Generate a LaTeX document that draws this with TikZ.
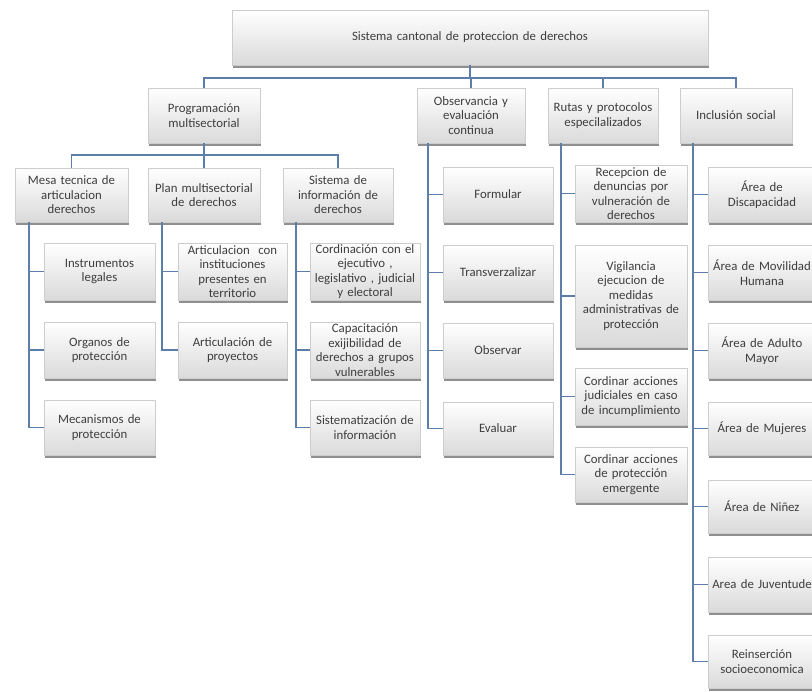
\documentclass[tikz,border=0pt]{standalone}
\usepackage{fontspec}
\setmainfont{Carlito}
\usetikzlibrary{shadows}
\definecolor{connc}{RGB}{92,126,168}
\definecolor{boxline}{RGB}{205,205,205}
\definecolor{boxbot}{RGB}{218,218,218}
\definecolor{txt}{RGB}{62,62,62}
\tikzset{
  orgnode/.style={draw=boxline, line width=0.5pt, top color=white, bottom color=boxbot,
    drop shadow={shadow xshift=0.8pt, shadow yshift=-2.6pt, fill=black!80, opacity=0.55},
    align=center, inner xsep=1pt, inner ysep=0pt, outer sep=0pt, text=txt,
    font=\fontsize{12.8}{14.5}\selectfont},
  conn/.style={draw=connc, line width=1.1pt}
}
\newcommand\orgbox[6]{%
  \pgfmathsetmacro\obw{#4-#2}%
  \pgfmathsetmacro\obh{#5-#3}%
  \pgfmathsetmacro\otw{#4-#2-2}%
  \node[orgnode, minimum width=\obw pt, minimum height=\obh pt, text width=\otw pt]
    (#1) at ({(#2+#4)/2},{(#3+#5)/2}) {#6};}
\begin{document}
\begin{tikzpicture}[x=1pt,y=-1pt]
\useasboundingbox (0,0) rectangle (812,692);
\fill[white] (0,0) rectangle (812,692);
% root and level 1
\orgbox{root}{232}{10}{708}{65}{Sistema cantonal de proteccion de derechos}
\orgbox{prog}{148}{88}{260}{143}{Programación\\multisectorial}
\orgbox{obs}{417}{88}{525}{143}{Observancia y\\evaluación\\continua}
\orgbox{rutas}{548}{88}{658}{143}{Rutas y protocolos\\especilalizados}
\orgbox{incl}{680}{88}{792}{143}{Inclusión social}
% level 2 under programacion
\orgbox{mesa}{15}{168}{128}{222}{Mesa tecnica de\\articulacion\\derechos}
\orgbox{plan}{148}{168}{260}{222}{Plan multisectorial\\de derechos}
\orgbox{sist}{283}{168}{393}{222}{Sistema de\\información de\\derechos}
% mesa children
\orgbox{instr}{44}{243}{155}{300}{Instrumentos\\legales}
\orgbox{organos}{44}{322}{155}{378}{Organos de\\protección}
\orgbox{mecan}{44}{400}{155}{455}{Mecanismos de\\protección}
% plan children
\orgbox{artinst}{178}{243}{287}{300}{Articulacion~ con\\instituciones\\presentes en\\territorio}
\orgbox{artproy}{178}{322}{287}{378}{Articulación de\\proyectos}
% sist children
\orgbox{cord}{310}{243}{420}{300}{Cordinación con el\\ejecutivo ,\\legislativo , judicial\\y electoral}
\orgbox{capac}{310}{322}{420}{378}{Capacitación\\exijibilidad de\\derechos a grupos\\vulnerables}
\orgbox{sistem}{310}{400}{420}{455}{Sistematización de\\información}
% obs children
\orgbox{formular}{443}{167}{553}{222}{Formular}
\orgbox{transv}{443}{245}{553}{300}{Transverzalizar}
\orgbox{observar}{443}{323}{553}{378}{Observar}
\orgbox{evaluar}{443}{402}{553}{455}{Evaluar}
% rutas children
\orgbox{recep}{575}{165}{687}{222}{Recepcion de\\denuncias por\\vulneración de\\derechos}
\orgbox{vigil}{575}{245}{687}{347}{Vigilancia\\ejecucion de\\medidas\\administrativas de\\protección}
\orgbox{cordjud}{575}{368}{687}{425}{Cordinar acciones\\judiciales en caso\\de incumplimiento}
\orgbox{cordprot}{575}{447}{687}{502}{Cordinar acciones\\de protección\\emergente}
% inclusion children
\orgbox{discap}{708}{167}{816}{222}{Área de\\Discapacidad}
\orgbox{movil}{708}{245}{816}{300}{Área de Movilidad\\Humana}
\orgbox{adulto}{708}{323}{816}{378}{Área de Adulto\\Mayor}
\orgbox{mujeres}{708}{402}{816}{455}{Área de Mujeres}
\orgbox{ninez}{708}{480}{816}{533}{Área de Niñez}
\orgbox{juvent}{708}{557}{816}{612}{Area de Juventude}
\orgbox{reins}{708}{635}{816}{688}{Reinserción\\socioeconomica}
% connectors level 1
\foreach \c in {prog,obs,rutas,incl}
  \draw[conn] (root.south) -- ++(0,13) -| (\c.north);
% connectors level 2
\foreach \c in {mesa,plan,sist}
  \draw[conn] (prog.south) -- ++(0,12) -| (\c.north);
% spines
\foreach \c in {instr,organos,mecan}
  \draw[conn] ([xshift=14pt]mesa.south west) |- (\c.west);
\foreach \c in {artinst,artproy}
  \draw[conn] ([xshift=14pt]plan.south west) |- (\c.west);
\foreach \c in {cord,capac,sistem}
  \draw[conn] ([xshift=13pt]sist.south west) |- (\c.west);
\foreach \c in {formular,transv,observar,evaluar}
  \draw[conn] ([xshift=11pt]obs.south west) |- (\c.west);
\foreach \c in {recep,vigil,cordjud,cordprot}
  \draw[conn] ([xshift=13pt]rutas.south west) |- (\c.west);
\foreach \c in {discap,movil,adulto,mujeres,ninez,juvent,reins}
  \draw[conn] ([xshift=13pt]incl.south west) |- (\c.west);
\end{tikzpicture}
\end{document}
